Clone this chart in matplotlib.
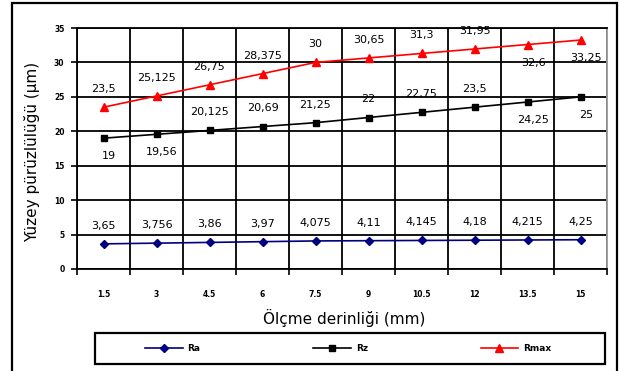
import matplotlib
matplotlib.use("Agg")
import matplotlib.pyplot as plt
from matplotlib.patches import Rectangle
import numpy as np

plt.rcParams['font.family'] = ['DejaVu Sans']

categories = ["1.5", "3", "4.5", "6", "7.5", "9", "10.5", "12", "13.5", "15"]
ra = [3.65, 3.756, 3.86, 3.97, 4.075, 4.11, 4.145, 4.18, 4.215, 4.25]
rz = [19, 19.56, 20.125, 20.69, 21.25, 22, 22.75, 23.5, 24.25, 25]
rmax = [23.5, 25.125, 26.75, 28.375, 30, 30.65, 31.3, 31.95, 32.6, 33.25]
yticks = [0, 5, 10, 15, 20, 25, 30, 35]

# label placement: +1 above, -1 below
ra_pos = [1] * 10
rz_pos = [-1, -1, 1, 1, 1, 1, 1, 1, -1, -1]
rmax_pos = [1, 1, 1, 1, 1, 1, 1, 1, -1, -1]

W, H = 620, 371
fig = plt.figure(figsize=(6.2, 3.71), dpi=100)
ax = fig.add_axes([77 / W, 1 - 269 / H, 530 / W, 241 / H])

x = np.arange(len(categories))

series = [
    (ra, ra_pos, "Ra", "#000080", "D", 4),
    (rz, rz_pos, "Rz", "black", "s", 5),
    (rmax, rmax_pos, "Rmax", "red", "^", 6),
]
handles = []
for vals, pos, name, col, mk, ms in series:
    h, = ax.plot(x, vals, color=col, marker=mk, markersize=ms, lw=1.2,
                 markeredgecolor=col, markerfacecolor=col, label=name, zorder=4)
    handles.append(h)
    for xi, v, p in zip(x, vals, pos):
        txt = f"{v:g}".replace(".", ",")
        ax.annotate(txt, (xi, v), xytext=(4 if p < 0 else 0, 13 * p),
                    textcoords="offset points", ha="center", va="center",
                    fontsize=8, color="black", zorder=5)

ax.set_xlim(-0.5, len(categories) - 0.5)
ax.set_ylim(0, 35)
ax.set_yticks(yticks)
ax.set_yticklabels([str(t) for t in yticks], fontsize=5.5, fontweight="bold")
ax.set_xticks(np.arange(len(categories) + 1) - 0.5)
ax.set_xticklabels([])
ax.set_xticks(x, minor=True)
ax.set_xticklabels(categories, minor=True, fontsize=5.5, fontweight="bold")
ax.tick_params(axis="x", which="major", length=4, width=1.2, direction="out")
ax.tick_params(axis="x", which="minor", length=0, pad=15)
ax.tick_params(axis="y", length=4, width=1.2, direction="out", pad=5)
ax.grid(True, which="major", color="black", lw=1.3)
ax.set_axisbelow(True)
for s in ["left", "bottom", "top"]:
    ax.spines[s].set_color("black")
    ax.spines[s].set_linewidth(1.3)
ax.spines["right"].set_color("#999999")
ax.spines["right"].set_linewidth(1.3)

fig.text(32 / W, 1 - 152 / H, "Yüzey pürüzlülüğü (µm)", rotation=90,
         ha="center", va="center", fontsize=11)
fig.text(344 / W, 1 - 318 / H, "Ölçme derinliği (mm)", ha="center",
         va="center", fontsize=11)

leg = fig.legend(handles=handles, loc="center",
                 bbox_to_anchor=(348 / W, 1 - 348.5 / H), ncol=3,
                 frameon=False, handlelength=4.2, handletextpad=0.5,
                 columnspacing=12.5, prop={"size": 6.5, "weight": "bold"})

fig.patches.append(Rectangle((95 / W, 1 - 364 / H), 510 / W, 31 / H,
                             transform=fig.transFigure, fill=False,
                             edgecolor="black", lw=1.6))
fig.patches.append(Rectangle((12 / W, -0.05), 605 / W, 1.05 - 3 / H,
                             transform=fig.transFigure, fill=False,
                             edgecolor="black", lw=1.6))

fig.savefig("out.png", dpi=100)
